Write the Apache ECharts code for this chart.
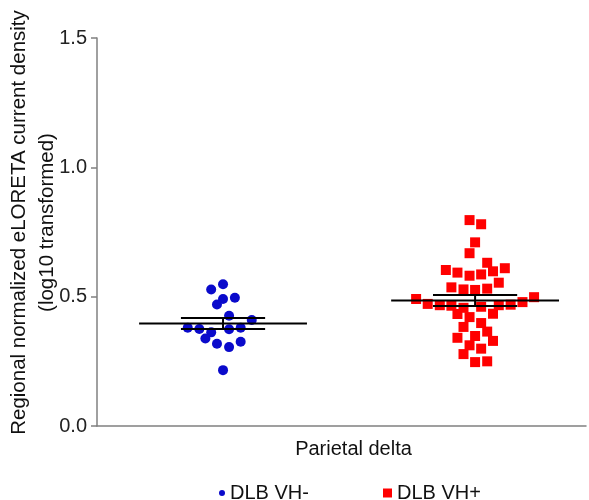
<!DOCTYPE html>
<html>
<head>
<meta charset="utf-8">
<script src="https://cdn.jsdelivr.net/npm/echarts@6/dist/echarts.min.js"></script>
<style>
  html, body { margin: 0; padding: 0; background: #fff; }
  #chart { width: 589px; height: 500px; }
</style>
</head>
<body>
<div id="chart"></div>
<script>
const groups = ['DLB VH-', 'DLB VH+']
const yTicks = [0, 0.5, 1.0, 1.5]

// DLB VH- : horizontal jitter (x units) and values
const vhMinusX = [0, -0.047, 0, 0.047, -0.024, 0.024, 0.114, -0.14, -0.094, -0.047, 0.024, 0.07, -0.07, -0.024, 0.024, 0.07, 0]
const vhMinusY = [0.548, 0.528, 0.491, 0.496, 0.470, 0.426, 0.410, 0.380, 0.375, 0.362, 0.374, 0.380, 0.338, 0.318, 0.305, 0.326, 0.216]

// DLB VH+
const vhPlusX = [-0.022, 0.024, 0, -0.022, 0.048, -0.116, -0.07, -0.022, 0.024, 0.071, 0.118, 0.094,
  -0.094, -0.046, 0, 0.048, -0.234, 0.234, 0.188, -0.188, -0.14, -0.094, -0.046, 0.024, 0.094, 0.141,
  -0.07, -0.022, 0.071, 0.024, -0.046, 0.048, -0.07, 0, 0.071, -0.022, 0.024, -0.046, 0, 0.048]
const vhPlusY = [0.796, 0.780, 0.710, 0.668, 0.631, 0.603, 0.593, 0.581, 0.586, 0.598, 0.610, 0.554,
  0.536, 0.528, 0.526, 0.531, 0.491, 0.498, 0.479, 0.472, 0.467, 0.465, 0.457, 0.461, 0.467, 0.469,
  0.433, 0.421, 0.434, 0.398, 0.383, 0.365, 0.341, 0.348, 0.329, 0.312, 0.299, 0.278, 0.247, 0.250]

const font = 'Liberation Sans, Arial, sans-serif'

function stats(arr) {
  const n = arr.length
  const mean = arr.reduce((a, b) => a + b, 0) / n
  const sd = Math.sqrt(arr.reduce((a, b) => a + (b - mean) ** 2, 0) / (n - 1))
  return { mean, sem: sd / Math.sqrt(n) }
}

const sMinus = stats(vhMinusY)
const sPlus = stats(vhPlusY)
const errData = [
  [1, sMinus.mean, sMinus.sem],
  [2, sPlus.mean, sPlus.sem],
]

const chart = echarts.init(document.getElementById('chart'))

chart.setOption({
  animation: false,
  grid: { left: 97, right: 3, top: 38, bottom: 74, outerBoundsMode: 'none', containLabel: false },
  legend: [
    {
      data: [{ name: groups[0], icon: 'circle' }],
      left: 214, top: 478,
      itemWidth: 6, itemHeight: 6, itemGap: 7,
      textStyle: { fontFamily: font, fontSize: 20, color: '#111' },
    },
    {
      data: [{ name: groups[1], icon: 'rect' }],
      left: 378, top: 478,
      itemWidth: 9, itemHeight: 9, itemGap: 9,
      textStyle: { fontFamily: font, fontSize: 20, color: '#111' },
    },
  ],
  xAxis: {
    type: 'value',
    min: 0.5,
    max: 2.44,
    name: 'Parietal delta',
    nameLocation: 'middle',
    nameGap: 13,
    nameMoveOverlap: false,
    nameTextStyle: { fontFamily: font, fontSize: 20, color: '#111', padding: [0, 0, 0, 24] },
    axisLine: { lineStyle: { color: '#808080', width: 1.5 } },
    axisTick: { show: false },
    axisLabel: { show: false },
    splitLine: { show: false },
  },
  yAxis: {
    type: 'value',
    min: 0,
    max: 1.5,
    interval: 0.5,
    name: 'Regional normalized eLORETA current density\n(log10 transformed)',
    nameLocation: 'middle',
    nameGap: 36,
    nameMoveOverlap: false,
    nameTextStyle: { fontFamily: font, fontSize: 20.5, color: '#111', lineHeight: 28, padding: [0, 0, 0, 19] },
    axisLine: { show: true, lineStyle: { color: '#808080', width: 1.5 } },
    axisTick: { show: true, length: 6, lineStyle: { color: '#808080', width: 1.5 } },
    axisLabel: {
      fontFamily: font, fontSize: 20, color: '#222', margin: 10,
      formatter: v => yTicks.includes(v) ? v.toFixed(1) : '',
    },
    splitLine: { show: false },
  },
  series: [
    {
      name: groups[0],
      type: 'scatter',
      symbol: 'circle',
      symbolSize: 10,
      itemStyle: { color: '#0a0acb', opacity: 1 },
      data: vhMinusY.map((v, i) => [1 + vhMinusX[i], v]),
      z: 2,
    },
    {
      name: groups[1],
      type: 'scatter',
      symbol: 'rect',
      symbolSize: 10,
      itemStyle: { color: '#ff0000', opacity: 1 },
      data: vhPlusY.map((v, i) => [2 + vhPlusX[i], v]),
      z: 2,
    },
    {
      type: 'custom',
      data: errData,
      z: 5,
      renderItem: (params, api) => {
        const c = api.value(0), m = api.value(1), e = api.value(2)
        const p = (x, y) => api.coord([x, y])
        const st = { stroke: '#000', lineWidth: 2 }
        const seg = (a, b) => ({ type: 'line', shape: { x1: a[0], y1: a[1], x2: b[0], y2: b[1] }, style: st })
        return {
          type: 'group',
          children: [
            seg(p(c - 0.333, m), p(c + 0.333, m)),
            seg(p(c - 0.167, m + e), p(c + 0.167, m + e)),
            seg(p(c - 0.167, m - e), p(c + 0.167, m - e)),
            seg(p(c, m - e), p(c, m + e)),
          ],
        }
      },
    },
  ],
})
</script>
</body>
</html>
